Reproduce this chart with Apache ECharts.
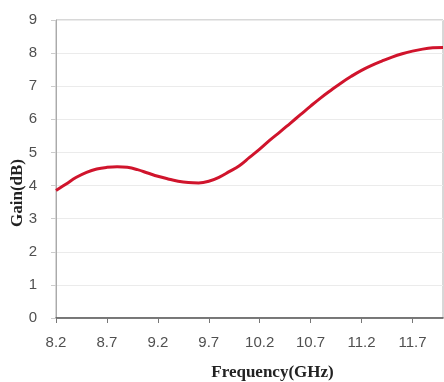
<!DOCTYPE html>
<html>
<head>
<meta charset="utf-8">
<script src="https://cdn.jsdelivr.net/npm/echarts@6/dist/echarts.min.js"></script>
<style>html,body{margin:0;padding:0;background:#fff}#c{width:444px;height:382px}</style>
</head>
<body>
<div id="c"></div>
<script>
const freqGHz = [8.2,8.3,8.4,8.5,8.6,8.7,8.8,8.9,9.0,9.1,9.2,9.3,9.4,9.5,9.6,9.7,9.8,9.9,10.0,10.1,10.2,10.3,10.4,10.5,10.6,10.7,10.8,10.9,11.0,11.1,11.2,11.3,11.4,11.5,11.6,11.7,11.8,11.9,12.0];
const gainDB = [3.85,4.05,4.25,4.40,4.50,4.55,4.57,4.55,4.48,4.38,4.28,4.20,4.13,4.09,4.08,4.13,4.25,4.42,4.60,4.85,5.10,5.37,5.62,5.88,6.14,6.40,6.65,6.88,7.10,7.30,7.48,7.63,7.76,7.88,7.98,8.06,8.12,8.16,8.17];
const xTicks = [8.2,8.7,9.2,9.7,10.2,10.7,11.2,11.7];
const yTicks = [0,1,2,3,4,5,6,7,8,9];

const chart = echarts.init(document.getElementById('c'));
chart.setOption({
  animation: false,
  grid: { left: 56, right: 1, top: 20, bottom: 64, outerBoundsMode: 'none', containLabel: false, show: true, borderColor: '#b0b0b0', borderWidth: 1 },
  xAxis: {
    type: 'value', min: 8.2, max: 12.0,
    name: 'Frequency(GHz)', nameLocation: 'middle', nameGap: 46,
    nameTextStyle: { fontFamily: 'Liberation Serif', fontWeight: 'bold', fontSize: 17, color: '#222', padding: [0,0,0,46] },
    axisLine: { lineStyle: { color: '#555', width: 1.5 } },
    axisTick: { show: true, customValues: xTicks, length: 5, lineStyle: { color: '#777' } },
    axisLabel: { customValues: xTicks, fontFamily: 'Liberation Sans', fontSize: 15, color: '#505050', margin: 17, formatter: v => v.toFixed(1) },
    splitLine: { show: false }
  },
  yAxis: {
    type: 'value', min: 0, max: 9, interval: 1,
    axisLine: { show: true, lineStyle: { color: '#aaa' } },
    axisTick: { show: true, length: 5, lineStyle: { color: '#ccc' } },
    axisLabel: { fontFamily: 'Liberation Sans', fontSize: 15, color: '#505050', margin: 19 },
    splitLine: { lineStyle: { color: '#ebebeb' } }
  },
  graphic: [{
    type: 'text', x: 18, y: 193, rotation: Math.PI / 2,
    style: { text: 'Gain(dB)', fontFamily: 'Liberation Serif', fontWeight: 'bold', fontSize: 17, fill: '#222', align: 'center', verticalAlign: 'middle' }
  }],
  series: [{
    type: 'line', smooth: 0.4, showSymbol: false,
    data: freqGHz.map((f, i) => [f, gainDB[i]]),
    lineStyle: { color: '#d0142c', width: 3 }
  }]
});
</script>
</body>
</html>
